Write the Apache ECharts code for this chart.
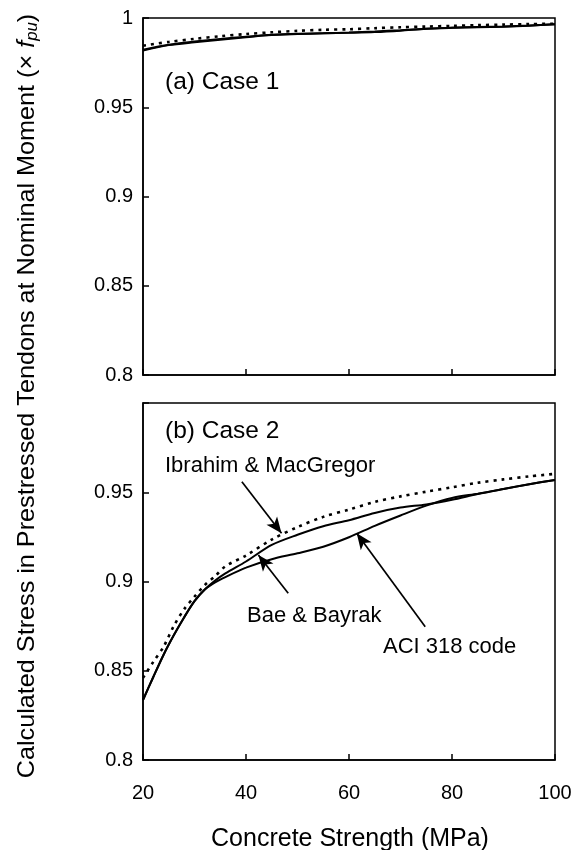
<!DOCTYPE html>
<html>
<head>
<meta charset="utf-8">
<script src="https://cdn.jsdelivr.net/npm/echarts@6/dist/echarts.min.js"></script>
<style>
  html, body { margin: 0; padding: 0; background: #fff; }
  #chart { width: 580px; height: 850px; }
</style>
</head>
<body>
<div id="chart"></div>
<script>
// (a) Case 1
var case1X = [20, 25, 30, 35, 40, 45, 50, 55, 60, 65, 70, 75, 80, 85, 90, 95, 100];
var case1ACI = [0.9818, 0.9848, 0.9864, 0.9878, 0.9892, 0.9906, 0.9912, 0.9914, 0.9917, 0.9921, 0.9929, 0.9940, 0.9945, 0.9948, 0.9951, 0.9957, 0.9965];
var case1Bae = [0.9822, 0.9850, 0.9868, 0.9883, 0.9895, 0.9905, 0.9910, 0.9914, 0.9919, 0.9925, 0.9932, 0.9940, 0.9946, 0.9949, 0.9952, 0.9958, 0.9965];
var case1Ibr = [0.9845, 0.9866, 0.9883, 0.9898, 0.9910, 0.9920, 0.9928, 0.9934, 0.9937, 0.9943, 0.9948, 0.9952, 0.9956, 0.9960, 0.9963, 0.9966, 0.9968];

// (b) Case 2
var case2X = [20, 22, 24, 26, 28, 30, 32, 34, 36, 40, 45, 50, 55, 60, 65, 70, 75, 80, 85, 90, 95, 100];
var case2ACI = [0.8336, 0.8465, 0.8590, 0.8700, 0.8800, 0.8890, 0.8955, 0.8995, 0.9025, 0.9078, 0.9125, 0.9158, 0.9195, 0.9248, 0.9312, 0.9370, 0.9425, 0.9468, 0.9492, 0.9518, 0.9545, 0.9569];
var case2Bae = [0.8336, 0.8465, 0.8590, 0.8700, 0.8800, 0.8890, 0.8955, 0.9005, 0.9045, 0.9112, 0.9205, 0.9262, 0.9310, 0.9343, 0.9384, 0.9414, 0.9432, 0.9458, 0.9490, 0.9518, 0.9545, 0.9569];
var case2Ibr = [0.8460, 0.8550, 0.8635, 0.8752, 0.8845, 0.8915, 0.8980, 0.9030, 0.9085, 0.9146, 0.9235, 0.9305, 0.9362, 0.9403, 0.9446, 0.9477, 0.9503, 0.9528, 0.9553, 0.9572, 0.9589, 0.9603];

// arrows for the labels in (b): [from, to] in data units
var arrowIbr = [[39.2, 0.9559], [46.9, 0.9270]];
var arrowBae = [[48.2, 0.8934], [42.4, 0.9148]];
var arrowACI = [[74.8, 0.8747], [61.5, 0.9270]];

var FONT = 'Liberation Sans, Arial, sans-serif';

var pairs = function(xs, ys) {
    return xs.map(function(x, i) { return [x, ys[i]]; });
};

var solid = { color: '#000', width: 2 };
var dotted = { color: '#000', width: 2.6, type: [3, 5] };

var arrowLine = function(a) {
    return [{ coord: a[0] }, { coord: a[1] }];
};

var makeX = function(idx, showLabels) {
    return {
        gridIndex: idx,
        type: 'value',
        min: 20, max: 100, interval: 20,
        axisLine: { show: true, onZero: false, lineStyle: { color: '#000', width: 1.5 } },
        axisTick: { show: true, inside: true, length: 6, lineStyle: { color: '#000', width: 1.5 } },
        axisLabel: { show: showLabels, color: '#000', fontSize: 20, fontFamily: FONT, margin: 23 },
        splitLine: { show: false }
    };
};

var makeY = function(idx, hideTop) {
    return {
        gridIndex: idx,
        type: 'value',
        min: 0.8, max: 1, interval: 0.05,
        axisLine: { show: true, lineStyle: { color: '#000', width: 1.5 } },
        axisTick: { show: true, inside: true, length: 6, lineStyle: { color: '#000', width: 1.5 } },
        axisLabel: {
            color: '#000', fontSize: 20, fontFamily: FONT, margin: 10,
            formatter: function(v) {
                if (hideTop && v > 0.999) return '';
                return String(Math.round(v * 100) / 100);
            }
        },
        splitLine: { show: false }
    };
};

var lineSeries = function(idx, xs, ys, style) {
    return {
        type: 'line',
        xAxisIndex: idx, yAxisIndex: idx,
        data: pairs(xs, ys),
        showSymbol: false,
        smooth: 0.3,
        lineStyle: style,
        silent: true
    };
};

var chart = echarts.init(document.getElementById('chart'), null, { renderer: 'canvas' });

var option = {
    animation: false,
    backgroundColor: '#fff',
    grid: [
        { left: 143, right: 25, top: 18, height: 357, show: true, borderColor: '#000', borderWidth: 1.5, backgroundColor: 'transparent' },
        { left: 143, right: 25, top: 403, height: 357, show: true, borderColor: '#000', borderWidth: 1.5, backgroundColor: 'transparent' }
    ],
    xAxis: [makeX(0, false), makeX(1, true)],
    yAxis: [makeY(0, false), makeY(1, true)],
    series: [
        lineSeries(0, case1X, case1ACI, solid),
        lineSeries(0, case1X, case1Bae, solid),
        lineSeries(0, case1X, case1Ibr, dotted),
        lineSeries(1, case2X, case2ACI, solid),
        lineSeries(1, case2X, case2Bae, solid),
        Object.assign(lineSeries(1, case2X, case2Ibr, dotted), {
            markLine: {
                silent: true,
                symbol: ['none', 'arrow'],
                symbolSize: [10, 16],
                label: { show: false },
                lineStyle: { color: '#000', width: 1.7, type: 'solid' },
                data: [arrowLine(arrowIbr), arrowLine(arrowBae), arrowLine(arrowACI)]
            }
        })
    ],
    graphic: [
        { type: 'text', x: 165, y: 70, style: { text: '(a) Case 1', font: '24.5px ' + FONT, fill: '#000' } },
        { type: 'text', x: 165, y: 419, style: { text: '(b) Case 2', font: '24.5px ' + FONT, fill: '#000' } },
        { type: 'text', x: 165, y: 455, style: { text: 'Ibrahim & MacGregor', font: '22px ' + FONT, fill: '#000' } },
        { type: 'text', x: 247, y: 605, style: { text: 'Bae & Bayrak', font: '22px ' + FONT, fill: '#000' } },
        { type: 'text', x: 383, y: 636, style: { text: 'ACI 318 code', font: '22px ' + FONT, fill: '#000' } },
        { type: 'text', x: 350, y: 827, style: { text: 'Concrete Strength (MPa)', font: '25px ' + FONT, fill: '#000', align: 'center' } },
        {
            type: 'text',
            x: 27, y: 396,
            rotation: Math.PI / 2,
            scaleX: 1.05,
            style: {
                text: 'Calculated Stress in Prestressed Tendons at Nominal Moment (× {it|f}{sub|pu})',
                font: '24px ' + FONT,
                fill: '#000',
                align: 'center',
                verticalAlign: 'middle',
                rich: {
                    it: { fontStyle: 'italic', fontSize: 24, fontFamily: FONT },
                    sub: { fontStyle: 'italic', fontSize: 16, fontFamily: FONT, padding: [11, 0, 0, 0] }
                }
            }
        }
    ]
};

chart.setOption(option);
</script>
</body>
</html>
